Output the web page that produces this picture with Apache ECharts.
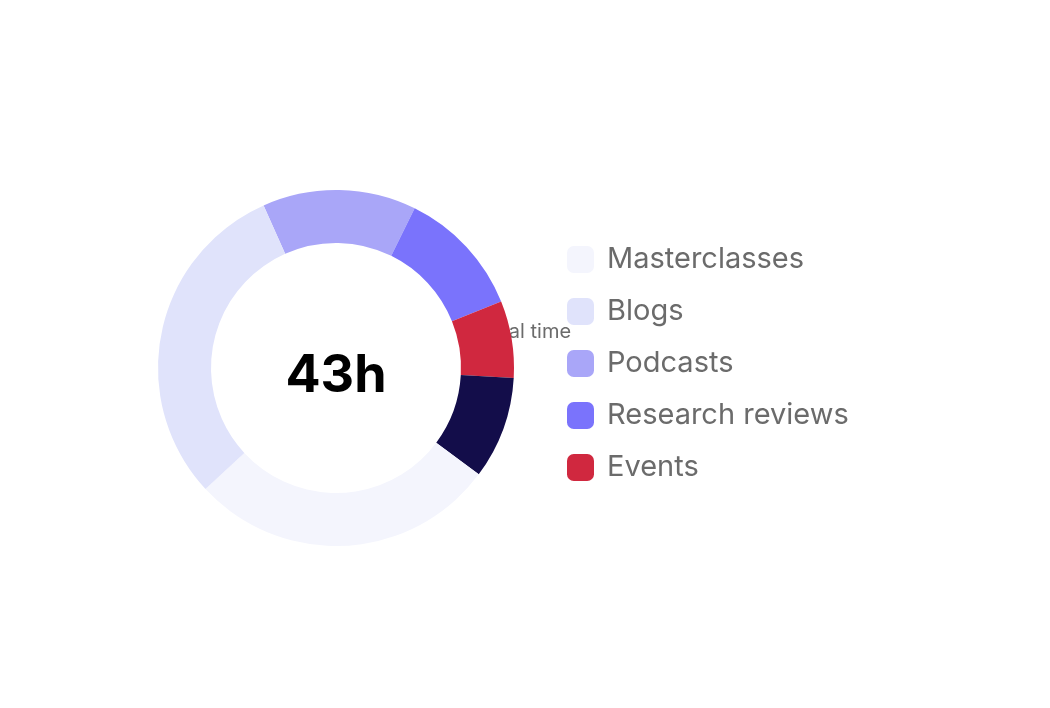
<!DOCTYPE html>
<html>
<head>
<meta charset="utf-8">
<script src="https://cdn.jsdelivr.net/npm/echarts@6/dist/echarts.min.js"></script>
<style>
  html, body { margin: 0; padding: 0; background: #fff; }
  #chart { width: 1050px; height: 708px; }
</style>
</head>
<body>
<div id="chart"></div>
<script>
  // slices in clockwise order from the top-left
  const names = ["Podcasts", "Research reviews", "Events", "Other", "Masterclasses", "Blogs"];
  const hours = [6, 5, 3, 4, 12, 13];
  const colors = ["#a9a6f8", "#7a73fc", "#d0283f", "#130d4a", "#f4f5fd", "#e0e3fb"];
  const legendNames = ["Masterclasses", "Blogs", "Podcasts", "Research reviews", "Events"];
  const totalLabel = "Total time";
  const totalValue = "43h";

  const chart = echarts.init(document.getElementById("chart"));
  chart.setOption({
    animation: false,
    legend: {
      data: legendNames,
      orient: "vertical",
      left: 562,
      top: 240,
      itemWidth: 27,
      itemHeight: 27,
      itemGap: 23,
      icon: "roundRect",
      textStyle: { fontFamily: "Inter", fontSize: 29, color: "#6b6b6b", padding: [0, 0, 0, 8] },
      selectedMode: false
    },
    series: [{
      type: "pie",
      center: [336, 368],
      radius: [125, 178],
      startAngle: 114,
      clockwise: true,
      label: { show: false },
      labelLine: { show: false },
      emphasis: { disabled: true },
      data: names.map((n, i) => ({ name: n, value: hours[i], itemStyle: { color: colors[i] } }))
    }],
    graphic: [
      { type: "text", left: "center", style: { text: totalLabel, x: 336, y: 332, align: "center", verticalAlign: "middle", font: "20px Inter", fill: "#6b6b6b" } },
      { type: "text", style: { text: totalValue, x: 336, y: 376, align: "center", verticalAlign: "middle", font: "bold 52px Inter", fill: "#000" } }
    ]
  });
</script>
</body>
</html>
